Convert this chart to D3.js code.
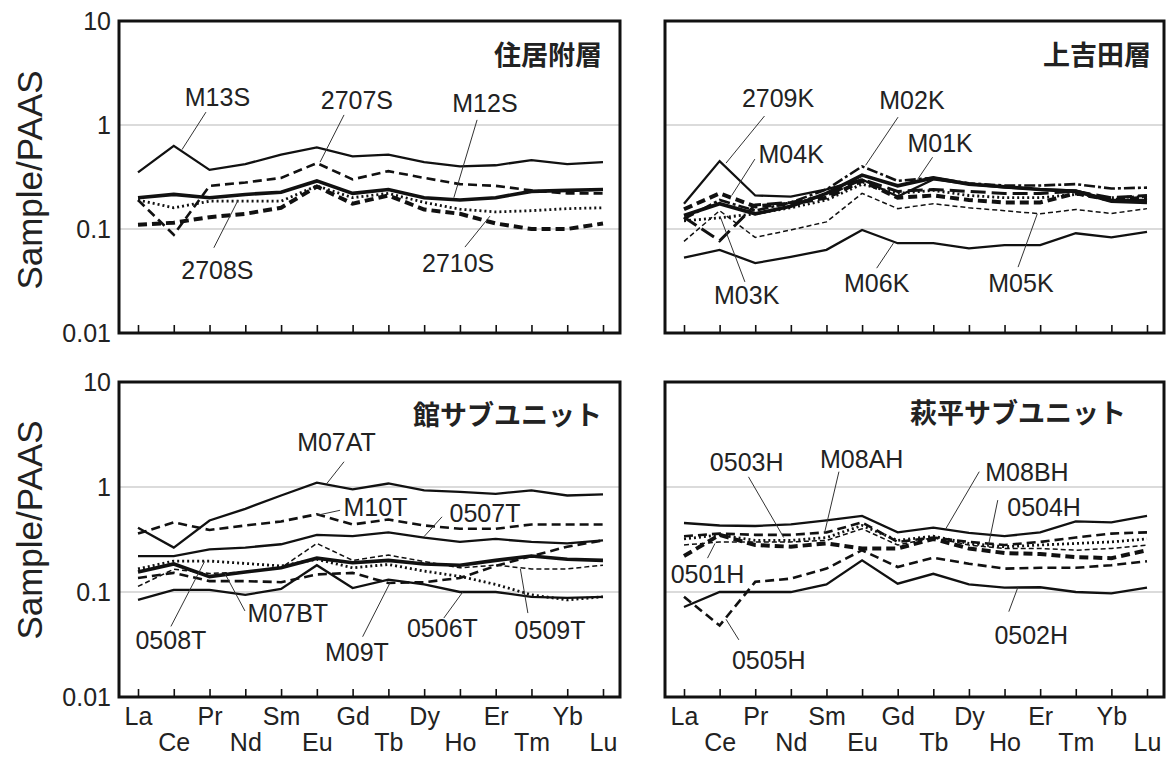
<!DOCTYPE html>
<html>
<head>
<meta charset="utf-8">
<script src="https://cdn.jsdelivr.net/npm/d3@7"></script>
<style>
  body { margin: 0; background: #fff; }
  svg { display: block; }
</style>
</head>
<body>
<svg id="chart" width="1166" height="758"></svg>
<script>
// REE elements (PAAS-normalised spider diagram)
const elements = ["La", "Ce", "Pr", "Nd", "Sm", "Eu", "Gd", "Tb", "Dy", "Ho", "Er", "Tm", "Yb", "Lu"];
const yTickValues = [0.01, 0.1, 1, 10];
const yTickLabels = ["0.01", "0.1", "1", "10"];
const gridValues = [0.1, 1];
const yAxisTitle = "Sample/PAAS";
const panelTitles = ["住居附層", "上吉田層", "館サブユニット", "萩平サブユニット"];

// 住居附層
const M13S  = [0.35, 0.63, 0.37, 0.42, 0.52, 0.61, 0.50, 0.52, 0.44, 0.40, 0.41, 0.46, 0.42, 0.44];
const s2707S = [0.19, 0.088, 0.26, 0.28, 0.31, 0.43, 0.30, 0.36, 0.31, 0.27, 0.26, 0.235, 0.22, 0.22];
const M12S  = [0.20, 0.215, 0.20, 0.215, 0.226, 0.29, 0.22, 0.24, 0.20, 0.19, 0.20, 0.23, 0.235, 0.24];
const s2708S = [0.19, 0.16, 0.185, 0.185, 0.185, 0.26, 0.20, 0.22, 0.18, 0.155, 0.146, 0.15, 0.157, 0.16];
const s2710S = [0.11, 0.115, 0.13, 0.14, 0.16, 0.256, 0.175, 0.21, 0.154, 0.14, 0.113, 0.10, 0.10, 0.113];

// 上吉田層
const s2709K = [0.175, 0.45, 0.21, 0.205, 0.24, 0.30, 0.205, 0.30, 0.27, 0.25, 0.24, 0.235, 0.19, 0.19];
const M01K  = [0.135, 0.175, 0.14, 0.165, 0.22, 0.33, 0.26, 0.31, 0.27, 0.255, 0.24, 0.23, 0.185, 0.18];
const M02K  = [0.125, 0.19, 0.15, 0.18, 0.24, 0.40, 0.29, 0.31, 0.275, 0.262, 0.262, 0.27, 0.245, 0.25];
const M04K  = [0.155, 0.22, 0.165, 0.175, 0.20, 0.29, 0.20, 0.21, 0.19, 0.18, 0.18, 0.22, 0.19, 0.20];
const M03K  = [0.12, 0.128, 0.14, 0.16, 0.19, 0.27, 0.22, 0.235, 0.21, 0.20, 0.20, 0.215, 0.20, 0.205];
const kOther = [0.13, 0.077, 0.17, 0.18, 0.21, 0.30, 0.23, 0.24, 0.23, 0.22, 0.22, 0.23, 0.20, 0.21];
const M05K  = [0.076, 0.15, 0.083, 0.098, 0.117, 0.22, 0.157, 0.175, 0.16, 0.15, 0.14, 0.154, 0.141, 0.157];
const M06K  = [0.053, 0.063, 0.047, 0.054, 0.063, 0.098, 0.073, 0.073, 0.065, 0.07, 0.07, 0.091, 0.083, 0.094];

// 館サブユニット
const M07AT = [0.41, 0.265, 0.48, 0.62, 0.83, 1.10, 0.95, 1.08, 0.93, 0.90, 0.86, 0.93, 0.83, 0.85];
const M10T  = [0.36, 0.46, 0.39, 0.43, 0.47, 0.55, 0.44, 0.49, 0.43, 0.40, 0.40, 0.44, 0.44, 0.44];
const s0507T = [0.22, 0.22, 0.255, 0.265, 0.285, 0.35, 0.34, 0.37, 0.33, 0.30, 0.32, 0.30, 0.29, 0.31];
const M07BT = [0.155, 0.185, 0.14, 0.155, 0.17, 0.21, 0.19, 0.20, 0.185, 0.18, 0.20, 0.22, 0.205, 0.20];
const s0508T = [0.166, 0.197, 0.197, 0.187, 0.177, 0.205, 0.17, 0.183, 0.158, 0.141, 0.118, 0.094, 0.084, 0.09];
const s0509T = [0.113, 0.165, 0.15, 0.155, 0.17, 0.29, 0.20, 0.225, 0.195, 0.17, 0.18, 0.166, 0.166, 0.18];
const s0506T = [0.136, 0.152, 0.127, 0.127, 0.124, 0.147, 0.152, 0.122, 0.124, 0.136, 0.177, 0.22, 0.27, 0.31];
const M09T  = [0.084, 0.105, 0.105, 0.094, 0.107, 0.18, 0.109, 0.131, 0.118, 0.10, 0.10, 0.09, 0.088, 0.09];

// 萩平サブユニット
const M08BH = [0.454, 0.43, 0.425, 0.44, 0.48, 0.53, 0.37, 0.41, 0.365, 0.34, 0.37, 0.47, 0.46, 0.53];
const M08AH = [0.34, 0.36, 0.35, 0.35, 0.37, 0.46, 0.30, 0.33, 0.30, 0.28, 0.30, 0.33, 0.36, 0.37];
const s0503H = [0.32, 0.35, 0.31, 0.31, 0.33, 0.43, 0.31, 0.34, 0.29, 0.27, 0.28, 0.29, 0.30, 0.32];
const s0504H = [0.22, 0.35, 0.28, 0.27, 0.29, 0.26, 0.26, 0.32, 0.26, 0.235, 0.23, 0.215, 0.21, 0.25];
const s0501H = [0.28, 0.30, 0.30, 0.30, 0.31, 0.40, 0.28, 0.33, 0.28, 0.26, 0.26, 0.25, 0.26, 0.28];
const s0505H = [0.09, 0.048, 0.125, 0.134, 0.167, 0.25, 0.173, 0.212, 0.186, 0.167, 0.17, 0.17, 0.18, 0.196];
const s0502H = [0.072, 0.10, 0.10, 0.10, 0.118, 0.20, 0.12, 0.149, 0.118, 0.11, 0.111, 0.10, 0.097, 0.11];

// Line styles
const styles = {
  solid:       { w: 2.3, dash: null },
  solidThick:  { w: 3.6, dash: null },
  dashed:      { w: 2.6, dash: "9,5" },
  dashedThick: { w: 4.0, dash: "9,5" },
  dashedThin:  { w: 1.5, dash: "5,3" },
  dotted:      { w: 2.8, dash: "2,3" },
  dashDot:     { w: 2.6, dash: "11,3,3,3" },
  longDash:    { w: 3.0, dash: "15,6" }
};

const panelSeries = [
  [
    { values: M13S, style: "solid" },
    { values: s2707S, style: "dashed" },
    { values: M12S, style: "solidThick" },
    { values: s2708S, style: "dotted" },
    { values: s2710S, style: "dashedThick" }
  ],
  [
    { values: s2709K, style: "solid" },
    { values: M02K, style: "dashDot" },
    { values: M01K, style: "solidThick" },
    { values: M04K, style: "dashedThick" },
    { values: M03K, style: "dotted" },
    { values: kOther, style: "longDash" },
    { values: M05K, style: "dashedThin" },
    { values: M06K, style: "solid" }
  ],
  [
    { values: M07AT, style: "solid" },
    { values: M10T, style: "dashed" },
    { values: s0507T, style: "solid" },
    { values: M07BT, style: "solidThick" },
    { values: s0508T, style: "dotted" },
    { values: s0509T, style: "dashedThin" },
    { values: s0506T, style: "dashed" },
    { values: M09T, style: "solid" }
  ],
  [
    { values: M08BH, style: "solid" },
    { values: M08AH, style: "dashed" },
    { values: s0503H, style: "dotted" },
    { values: s0504H, style: "dashedThick" },
    { values: s0501H, style: "dashedThin" },
    { values: s0505H, style: "dashed" },
    { values: s0502H, style: "solid" }
  ]
];

// Callouts: label anchor, leader start and leader end, in (element index, value) space
const panelCallouts = [
  [
    { name: "M13S",  at: [2.22, 1.86],  from: [1.90, 1.33],  to: [1.23, 0.58] },
    { name: "2707S", at: [6.12, 1.74],  from: [5.76, 1.25],  to: [5.09, 0.44] },
    { name: "M12S",  at: [9.70, 1.63],  from: [9.48, 1.12],  to: [8.83, 0.20] },
    { name: "2708S", at: [2.22, 0.040], from: [2.12, 0.066], to: [2.80, 0.19] },
    { name: "2710S", at: [8.95, 0.047], from: [9.14, 0.067], to: [9.84, 0.133] }
  ],
  [
    { name: "2709K", at: [2.64, 1.82],  from: [2.26, 1.22],  to: [1.18, 0.43] },
    { name: "M04K",  at: [3.01, 0.53],  from: [1.99, 0.47],  to: [1.34, 0.21] },
    { name: "M02K",  at: [6.40, 1.74],  from: [6.01, 1.19],  to: [5.10, 0.41] },
    { name: "M01K",  at: [7.19, 0.67],  from: [6.98, 0.49],  to: [6.56, 0.30] },
    { name: "M03K",  at: [1.76, 0.023], from: [1.71, 0.031], to: [1.03, 0.128] },
    { name: "M06K",  at: [5.41, 0.030], from: [5.41, 0.042], to: [5.88, 0.073] },
    { name: "M05K",  at: [9.46, 0.030], from: [9.38, 0.043], to: [9.92, 0.14] }
  ],
  [
    { name: "M07AT", at: [5.55, 2.70],  from: [5.76, 1.74],  to: [5.27, 1.07] },
    { name: "M10T",  at: [6.64, 0.65],  from: [5.65, 0.60],  to: [5.03, 0.54] },
    { name: "0507T", at: [9.70, 0.565], from: [8.50, 0.52],  to: [7.99, 0.335] },
    { name: "0508T", at: [0.92, 0.035], from: [0.92, 0.047], to: [1.86, 0.195] },
    { name: "M07BT", at: [4.19, 0.063], from: [2.99, 0.066], to: [2.43, 0.15] },
    { name: "M09T",  at: [6.12, 0.027], from: [6.28, 0.0375], to: [7.05, 0.123] },
    { name: "0506T", at: [8.51, 0.045], from: [8.55, 0.0565], to: [9.08, 0.10] },
    { name: "0509T", at: [11.52, 0.0435], from: [10.90, 0.063], to: [10.69, 0.166] }
  ],
  [
    { name: "0503H", at: [1.76, 1.74],  from: [1.81, 1.25],  to: [2.80, 0.33] },
    { name: "M08AH", at: [4.99, 1.84],  from: [4.35, 1.40],  to: [3.95, 0.37] },
    { name: "M08BH", at: [9.63, 1.40],  from: [8.29, 1.40],  to: [7.35, 0.40] },
    { name: "0504H", at: [10.11, 0.65], from: [8.81, 0.75],  to: [8.54, 0.27] },
    { name: "0501H", at: [0.66, 0.15],  from: [0.66, 0.21],  to: [0.87, 0.29] },
    { name: "0502H", at: [9.75, 0.039], from: [9.12, 0.065], to: [9.38, 0.112] },
    { name: "0505H", at: [2.38, 0.0225], from: [1.54, 0.035], to: [1.18, 0.055] }
  ]
];

// Panel frames
const panels = [
  { left: 119, right: 620, top: 21, bottom: 333, xLabels: false, yLabels: true,  titleX: 602,  titleY: 55,  yTitleY: 180 },
  { left: 665, right: 1164, top: 21, bottom: 333, xLabels: false, yLabels: false, titleX: 1151, titleY: 55,  yTitleY: null },
  { left: 119, right: 620, top: 382, bottom: 697, xLabels: true,  yLabels: true,  titleX: 602,  titleY: 415, yTitleY: 530 },
  { left: 665, right: 1164, top: 382, bottom: 697, xLabels: true,  yLabels: false, titleX: 1126, titleY: 413, yTitleY: null }
];

const FONT = "'Liberation Sans', Arial, Helvetica, sans-serif";
const CJK = "'Noto Sans CJK JP', 'Noto Sans CJK SC', sans-serif";
const svg = d3.select("#chart");

panels.forEach((p, pi) => {
  const g = svg.append("g");
  const x = d3.scalePoint().domain(elements).range([p.left + 19, p.right - 17]);
  const y = d3.scaleLog().domain([0.01, 10]).range([p.bottom, p.top]);
  const xi = i => x(elements[0]) + i * x.step();

  // grid lines at 0.1 and 1
  g.selectAll("line.grid").data(gridValues).join("line")
    .attr("class", "grid")
    .attr("x1", p.left).attr("x2", p.right)
    .attr("y1", d => y(d)).attr("y2", d => y(d))
    .attr("stroke", "#cfcfcf").attr("stroke-width", 1.6);

  // sample lines
  const line = d3.line().x((d, i) => x(elements[i])).y(d => y(d));
  g.selectAll("path.series").data(panelSeries[pi]).join("path")
    .attr("class", "series")
    .attr("d", d => line(d.values))
    .attr("fill", "none")
    .attr("stroke", "#111")
    .attr("stroke-width", d => styles[d.style].w)
    .attr("stroke-dasharray", d => styles[d.style].dash)
    .attr("stroke-linejoin", "miter");

  // callout leaders and labels
  const co = panelCallouts[pi];
  g.selectAll("line.leader").data(co).join("line")
    .attr("class", "leader")
    .attr("x1", d => xi(d.from[0])).attr("y1", d => y(d.from[1]))
    .attr("x2", d => xi(d.to[0])).attr("y2", d => y(d.to[1]))
    .attr("stroke", "#333").attr("stroke-width", 1);
  g.selectAll("text.callout").data(co).join("text")
    .attr("class", "callout")
    .attr("x", d => xi(d.at[0])).attr("y", d => y(d.at[1]))
    .attr("dy", "0.36em")
    .attr("text-anchor", "middle")
    .attr("font-family", FONT).attr("font-size", 25)
    .attr("fill", "#222")
    .text(d => d.name);

  // y axis (labels on the left column only)
  const yAxis = g.append("g").attr("transform", `translate(${p.left},0)`)
    .call(d3.axisLeft(y).tickValues(yTickValues)
      .tickFormat(p.yLabels ? ((d, i) => yTickLabels[i]) : () => "")
      .tickSize(0).tickPadding(8));
  yAxis.select(".domain").remove();
  yAxis.selectAll("text").attr("font-family", FONT).attr("font-size", 25).attr("fill", "#222");

  // x axis with inward ticks, labels staggered on two rows
  const xAxis = g.append("g").attr("transform", `translate(0,${p.bottom})`)
    .call(d3.axisBottom(x).tickSizeInner(-8).tickSizeOuter(0).tickPadding(0)
      .tickFormat(p.xLabels ? (d => d) : () => ""));
  xAxis.select(".domain").remove();
  xAxis.selectAll(".tick line").attr("stroke", "#111").attr("stroke-width", 1.6);
  xAxis.selectAll("text")
    .attr("font-family", FONT).attr("font-size", 25).attr("fill", "#222")
    .attr("y", (d, i) => i % 2 === 0 ? 10 : 36);

  // frame
  g.append("rect")
    .attr("x", p.left).attr("y", p.top)
    .attr("width", p.right - p.left).attr("height", p.bottom - p.top)
    .attr("fill", "none").attr("stroke", "#111").attr("stroke-width", 3);

  // panel title
  g.append("text")
    .attr("x", p.titleX).attr("y", p.titleY).attr("dy", "0.36em")
    .attr("text-anchor", "end")
    .attr("font-family", CJK).attr("font-size", 27).attr("font-weight", 700)
    .attr("fill", "#222")
    .text(panelTitles[pi]);

  // y axis title
  if (p.yTitleY !== null) {
    svg.append("text")
      .attr("transform", `translate(29,${p.yTitleY}) rotate(-90)`)
      .attr("dy", "0.36em")
      .attr("text-anchor", "middle")
      .attr("font-family", FONT).attr("font-size", 35)
      .attr("fill", "#222")
      .text(yAxisTitle);
  }
});
</script>
</body>
</html>
